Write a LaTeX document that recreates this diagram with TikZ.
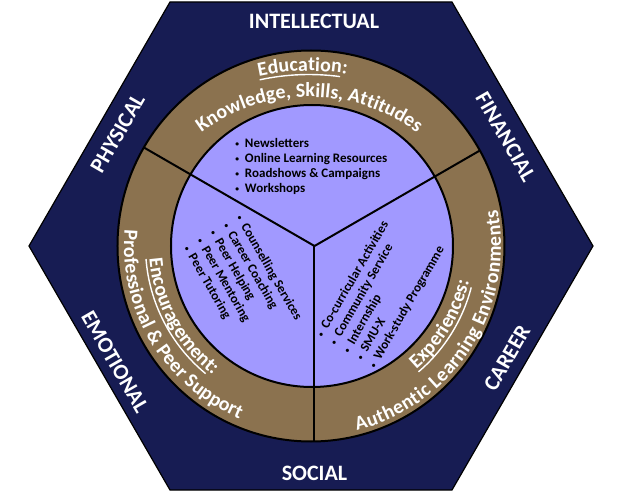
\documentclass[tikz,border=0pt]{standalone}
\usepackage{fontspec}
\setmainfont{Carlito}
\usetikzlibrary{decorations.text}
\definecolor{hexnavy}{RGB}{23,28,83}
\definecolor{ringbrown}{RGB}{139,114,79}
\definecolor{corelav}{RGB}{161,153,255}
\newcommand{\ringfnt}{\fontsize{20}{24}\selectfont\bfseries}
\newcommand{\bitem}[1]{\makebox[11pt][l]{\hspace{1.3pt}\raisebox{0.9pt}{\fontsize{7.5}{8}\selectfont\textbullet}}#1}
\newlength\wEdu
\newlength\wEnc
\newlength\wExp
\begin{document}
\settowidth\wEdu{\ringfnt Education}%
\settowidth\wEnc{\ringfnt Encouragement}%
\settowidth\wExp{\ringfnt Experiences}%
\begin{tikzpicture}[x=1pt,y=1pt,
  hexlabel/.style={text=white, font=\fontsize{22}{26}\selectfont\bfseries, inner sep=0},
  listnode/.style={text=black, font=\fontsize{13}{15.2}\selectfont\bfseries, inner sep=0, anchor=base west},
  ringtext/.style={decorate, decoration={text along path, text color=white, text={#1}, text align={fit to path}}},
  titletext/.style={decorate, decoration={text along path, text color=white, text={#1}, text align=left}},
  uline/.style={draw=white, line width=1.4pt},
  divider/.style={draw=black, line width=2pt},
]
\useasboundingbox (-311,-247) rectangle (311,246);
% hexagon
\draw[fill=hexnavy, draw=black, line width=1.2pt] (-141,244) -- (141,244) -- (282,0) -- (141,-244) -- (-141,-244) -- (-282,0) -- cycle;
% rings
\draw[fill=ringbrown, draw=black, line width=2pt] (0,0) ellipse [x radius=193.5, y radius=195.5];
\draw[fill=corelav, draw=black, line width=2pt] (1,0) circle [radius=141];
% dividers
\coordinate (ctr) at (3.5,0);
\coordinate (e1) at (-167.1,98.5);
\coordinate (e2) at (168.9,95.5);
\coordinate (e3) at (3.5,-195.5);
\draw[divider] (ctr) -- (e1);
\draw[divider] (ctr) -- (e2);
\draw[divider] (ctr) -- (e3);
% hexagon labels
\node[hexlabel] (intel) at (3,225) {INTELLECTUAL};
\node[hexlabel] (social) at (3.5,-227.5) {SOCIAL};
\node[hexlabel, rotate=60] (phys) at (-193.4,112.4) {PHYSICAL};
\node[hexlabel, rotate=-60] (fin) at (194.7,109) {FINANCIAL};
\node[hexlabel, rotate=-60] (emo) at (-196,-116) {EMOTIONAL};
\node[hexlabel, rotate=60] (car) at (196,-112) {CAREER};
% top ring text
\begin{scope}[shift={(-2,-60)}]
\path[titletext={|\ringfnt|Education:}] (102.3:235) arc[start angle=102.3, end angle=70, radius=235];
\pgfmathsetmacro\edEnd{102.3-\wEdu/235*57.2958}
\draw[uline] (102.3:231.5) arc[start angle=102.3, end angle=\edEnd, radius=231.5];
\end{scope}
\begin{scope}[shift={(-2,-32)}]
\path[ringtext={|\ringfnt|Knowledge, Skills, Attitudes}] (126.5:181) arc[start angle=126.5, end angle=53.5, radius=181];
\end{scope}
% left ring text
\path[titletext={|\ringfnt|Encouragement:}] (184.5:162) arc[start angle=184.5, end angle=245, radius=162];
\pgfmathsetmacro\encEnd{184.5+\wEnc/162*57.2958}
\draw[uline] (184.5:165.5) arc[start angle=184.5, end angle=\encEnd, radius=165.5];
\path[ringtext={|\ringfnt|Professional {\&} Peer Support}] (175:187) arc[start angle=175, end angle=247.5, radius=187];
% right ring text
\path[titletext={|\ringfnt|Experiences:}] (-49.5:162) arc[start angle=-49.5, end angle=5, radius=162];
\pgfmathsetmacro\expEnd{-49.5+\wExp/162*57.2958}
\draw[uline] (-49.5:165.5) arc[start angle=-49.5, end angle=\expEnd, radius=165.5];
\path[ringtext={|\ringfnt|Authentic Learning Environments}] (-76:190) arc[start angle=-76, end angle=11, radius=190];
% lists
\node[listnode] (edulist) at (-77.2,99) {\begin{tabular}[t]{@{}l@{}}\bitem{Newsletters}\\ \bitem{Online Learning Resources}\\ \bitem{Roadshows \& Campaigns}\\ \bitem{Workshops}\end{tabular}};
\node[listnode, rotate=-60] (enclist) at (-75.7,29.1) {\begin{tabular}[t]{@{}l@{}}\bitem{Counselling Services}\\ \bitem{Career Coaching}\\ \bitem{Peer Helping}\\ \bitem{Peer Mentoring}\\ \bitem{Peer Tutoring}\end{tabular}};
\node[listnode, rotate=60] (explist) at (11.1,-93.6) {\begin{tabular}[t]{@{}l@{}}\bitem{Co-curricular Activities}\\ \bitem{Community Service}\\ \bitem{Internship}\\ \bitem{SMU-X}\\ \bitem{Work-study Programme}\end{tabular}};
\end{tikzpicture}
\end{document}
